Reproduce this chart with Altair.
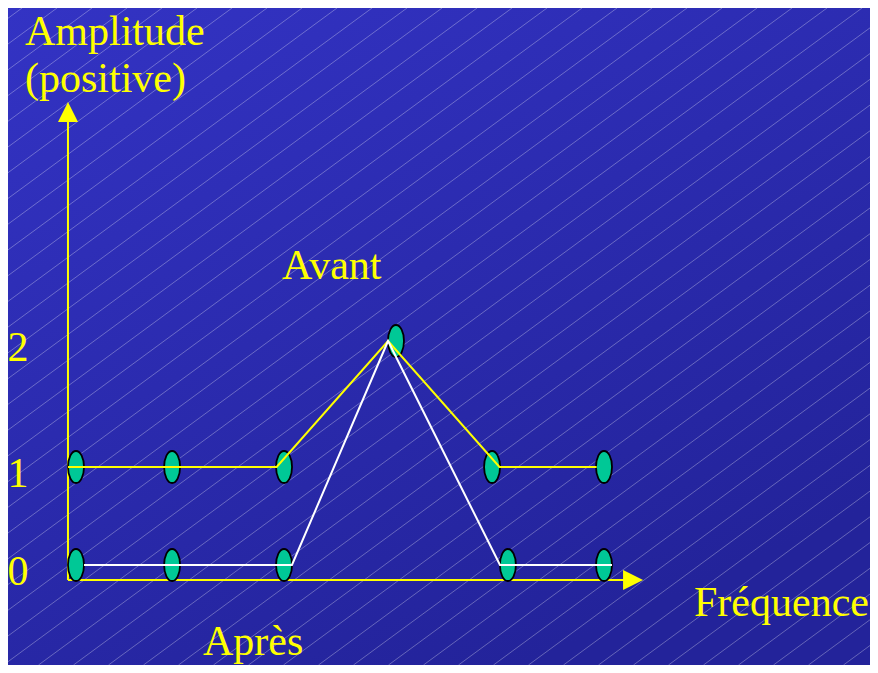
import altair as alt
import pandas as pd
import numpy as np

W, H = 862, 657

# ---- values ----
# frequency positions (arbitrary units) and amplitudes
avant_line_freq = [-0.076, 1.90, 2.955, 4.01, 4.93]
avant_line_amp = [1, 1, 2, 1, 1]
apres_line_freq = [0.076, 2.045, 2.955, 4.015, 5.076]
apres_line_amp = [0, 0, 2, 0, 0]

avant_marker_freq = [0.0, 0.91, 1.97, 3.03, 3.94, 5.0]
avant_marker_amp = [1, 1, 1, 2, 1, 1]
apres_marker_freq = [0.0, 0.91, 1.97, 4.09, 5.0]
apres_marker_amp = [0, 0, 0, 0, 0]

tick_values = [0, 1, 2]
tick_labels = ["0", "1", "2"]

axis_origin_freq = -0.076
axis_origin_amp = -0.153
axis_freq_end = 5.275
axis_amp_end = 3.817

title_y_1 = "Amplitude"
title_y_2 = "(positive)"
title_x = "Fréquence"
label_avant = "Avant"
label_apres = "Après"

# ---- styles ----
YELLOW = "#ffff00"
GREEN = "#00c896"
FONT = "Liberation Serif"
FS = 42

xs = alt.Scale(domain=[0, 5], range=[68, 596], zero=False, nice=False)
ys = alt.Scale(domain=[0, 1, 2], range=[557, 459, 333], zero=False, nice=False)

ELLIPSE = ("M0,-1 C0.2761,-1 0.5,-0.5523 0.5,0 C0.5,0.5523 0.2761,1 0,1 "
           "C-0.2761,1 -0.5,0.5523 -0.5,0 C-0.5,-0.5523 -0.2761,-1 0,-1 Z")
TRI_UP = "M0,-1 L1,1 L-1,1 Z"
TRI_RIGHT = "M1,0 L-1,-1 L-1,1 Z"

# background gradient
bg = alt.Chart(pd.DataFrame({"a": [0]})).mark_rect(
    fill=alt.Gradient(
        gradient="linear",
        stops=[alt.GradientStop(color="#3333c4", offset=0),
               alt.GradientStop(color="#23239a", offset=1)],
        x1=0, y1=0, x2=0.6, y2=1,
    ),
    strokeWidth=0,
).encode(x=alt.value(0), x2=alt.value(W), y=alt.value(0), y2=alt.value(H))

# diagonal hatch decoration (pixel space)
slope = 1.36
tops = np.arange(14, W + H * slope + 35, 35)
hatch_df = pd.DataFrame({"hx": tops, "hy": 0, "hx2": tops - H * slope, "hy2": H})
hatch = alt.Chart(hatch_df).mark_rule(
    clip=True, stroke="#ffffff", strokeOpacity=0.3, strokeWidth=1
).encode(
    x=alt.X("hx:Q", scale=None, axis=None),
    y=alt.Y("hy:Q", scale=None, axis=None),
    x2="hx2:Q",
    y2="hy2:Q",
)

# axes
axes_df = pd.DataFrame({
    "f": [axis_origin_freq, axis_origin_freq],
    "a": [axis_origin_amp, axis_origin_amp],
    "f2": [axis_freq_end, axis_origin_freq],
    "a2": [axis_origin_amp, axis_amp_end],
})
axes = alt.Chart(axes_df).mark_rule(stroke=YELLOW, strokeWidth=2).encode(
    x=alt.X("f:Q", scale=xs, axis=None),
    y=alt.Y("a:Q", scale=ys, axis=None),
    x2="f2:Q",
    y2="a2:Q",
)
arrow_up = alt.Chart(pd.DataFrame({"f": [axis_origin_freq], "a": [axis_amp_end]})).mark_point(
    shape=TRI_UP, size=400, filled=True, fill=YELLOW, opacity=1, strokeWidth=0
).encode(x=alt.X("f:Q", scale=xs, axis=None), y=alt.Y("a:Q", scale=ys, axis=None))
arrow_right = alt.Chart(pd.DataFrame({"f": [axis_freq_end], "a": [axis_origin_amp]})).mark_point(
    shape=TRI_RIGHT, size=400, filled=True, fill=YELLOW, opacity=1, strokeWidth=0
).encode(x=alt.X("f:Q", scale=xs, axis=None), y=alt.Y("a:Q", scale=ys, axis=None))

# markers
markers_df = pd.DataFrame({
    "f": avant_marker_freq + apres_marker_freq,
    "a": avant_marker_amp + apres_marker_amp,
})
markers = alt.Chart(markers_df).mark_point(
    shape=ELLIPSE, size=1024, filled=True, fill=GREEN, opacity=1,
    stroke="#000000", strokeWidth=1.8, strokeOpacity=1
).encode(x=alt.X("f:Q", scale=xs, axis=None), y=alt.Y("a:Q", scale=ys, axis=None))

# lines
avant_df = pd.DataFrame({"f": avant_line_freq, "a": avant_line_amp, "o": range(len(avant_line_freq))})
apres_df = pd.DataFrame({"f": apres_line_freq, "a": apres_line_amp, "o": range(len(apres_line_freq))})
line_avant = alt.Chart(avant_df).mark_line(stroke=YELLOW, strokeWidth=2).encode(
    x=alt.X("f:Q", scale=xs, axis=None), y=alt.Y("a:Q", scale=ys, axis=None), order="o:Q")
line_apres = alt.Chart(apres_df).mark_line(stroke="#ffffff", strokeWidth=2).encode(
    x=alt.X("f:Q", scale=xs, axis=None), y=alt.Y("a:Q", scale=ys, axis=None), order="o:Q")

# tick labels
ticks_df = pd.DataFrame({"v": tick_values, "t": tick_labels})
ticks = alt.Chart(ticks_df).mark_text(
    font=FONT, fontSize=FS, color=YELLOW, align="center", baseline="alphabetic", dy=20
).encode(x=alt.value(10), y=alt.Y("v:Q", scale=ys, axis=None), text="t:N")


def label(txt, x, y):
    return alt.Chart(pd.DataFrame({"t": [txt]})).mark_text(
        font=FONT, fontSize=FS, color=YELLOW, align="left", baseline="alphabetic"
    ).encode(x=alt.value(x), y=alt.value(y), text="t:N")


texts = [
    label(title_y_1, 17, 37),
    label(title_y_2, 17, 84),
    label(label_avant, 274, 271),
    label(label_apres, 195, 647),
    label(title_x, 686, 608),
]

chart = alt.layer(
    bg, hatch, axes, markers, line_avant, line_apres, arrow_up, arrow_right, ticks, *texts
).resolve_scale(
    x="independent", y="independent"
).properties(
    width=W, height=H, padding=0, autosize=alt.AutoSizeParams(type="none"),
    background="#2b2bb0",
).configure_view(strokeWidth=0)

chart.save("out.html", embed_options={"renderer": "svg", "actions": False})
